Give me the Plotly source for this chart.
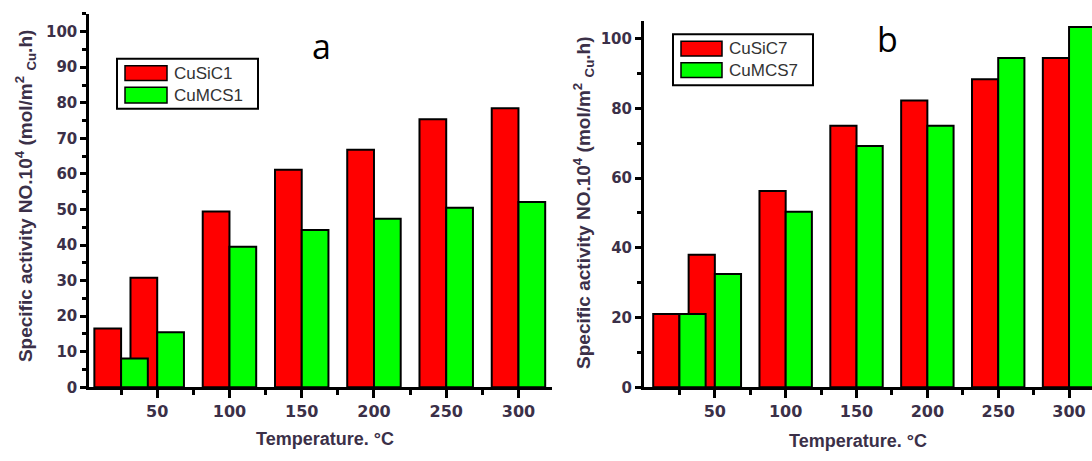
import plotly.graph_objects as go

# Reaction temperatures (°C) and specific activity values for each catalyst
temperatures = [25, 50, 100, 150, 200, 250, 300]
tick_values = [50, 100, 150, 200, 250, 300]
tick_labels = ["50", "100", "150", "200", "250", "300"]

cusic1 = [16.5, 30.8, 49.4, 61.2, 66.8, 75.4, 78.5]
cumcs1 = [8.1, 15.5, 39.5, 44.2, 47.4, 50.5, 52.1]
cusic7 = [21.0, 38.0, 56.3, 75.0, 82.2, 88.3, 94.4]
cumcs7 = [21.0, 32.5, 50.3, 69.2, 75.0, 94.4, 103.3]

series_names_a = ["CuSiC1", "CuMCS1"]
series_names_b = ["CuSiC7", "CuMCS7"]

W, H = 1092, 461
RED = "#ff0000"
GREEN = "#00ff00"
LABEL_COLOR = "#3b3048"
BAR_W = 18.5


def px(x):
    """pixel column -> paper fraction"""
    return x / W


def py(y):
    """pixel row (from top) -> paper fraction"""
    return 1 - y / H


fig = go.Figure()

panels = [
    ("x", "y", cusic1, cumcs1, series_names_a),
    ("x2", "y2", cusic7, cumcs7, series_names_b),
]
for xa, ya, red_vals, green_vals, names in panels:
    fig.add_trace(go.Bar(
        x=temperatures, y=red_vals, name=names[0], width=BAR_W, offset=-BAR_W,
        marker=dict(color=RED, line=dict(color="black", width=2)),
        xaxis=xa, yaxis=ya, showlegend=False,
    ))
    fig.add_trace(go.Bar(
        x=temperatures, y=green_vals, name=names[1], width=BAR_W, offset=0,
        marker=dict(color=GREEN, line=dict(color="black", width=2)),
        xaxis=xa, yaxis=ya, showlegend=False,
    ))

tick_font = dict(family="DejaVu Sans", size=15, color=LABEL_COLOR, weight=700)
xtick_font = dict(family="DejaVu Sans", size=16, color=LABEL_COLOR, weight=700)

x_common = dict(
    tickmode="array", tickvals=tick_values, ticktext=tick_labels,
    showline=True, linecolor="black", linewidth=3,
    ticks="outside", ticklen=8, tickwidth=2.5, tickcolor="black",
    minor=dict(tick0=25, dtick=50, ticks="outside", ticklen=5, tickwidth=2.5,
               tickcolor="black", showgrid=False),
    showgrid=False, zeroline=False, tickfont=xtick_font, fixedrange=True,
)
y_common = dict(
    range=[0, 105],
    showline=True, linecolor="black", linewidth=3,
    ticks="outside", ticklen=6, tickwidth=2.5, tickcolor="black",
    showgrid=False, zeroline=False, tickfont=tick_font, fixedrange=True,
)

fig.update_layout(
    width=W, height=H,
    margin=dict(l=0, r=0, t=0, b=0),
    paper_bgcolor="white", plot_bgcolor="white",
    barmode="overlay",
    xaxis=dict(x_common, range=[3, 323], domain=[px(89.3), px(551.7)], anchor="y"),
    yaxis=dict(y_common, dtick=10,
               minor=dict(dtick=5, ticks="outside", ticklen=4, tickwidth=2.5,
                          tickcolor="black", showgrid=False),
               domain=[py(395), py(395 - 105 * 3.627)], anchor="x"),
    xaxis2=dict(x_common, range=[0, 316.2], domain=[px(644), 1.0], anchor="y2"),
    yaxis2=dict(y_common, dtick=20,
                minor=dict(dtick=10, ticks="outside", ticklen=4, tickwidth=2.5,
                           tickcolor="black", showgrid=False),
                domain=[py(395), py(395 - 105 * 3.557)], anchor="x2"),
    showlegend=False,
)

ytitle = ("Specific activity NO.10<sup>4</sup> (mol/m<sup>2</sup> "
          "<sub>Cu</sub>.h)")
title_font = dict(family="Liberation Sans", size=19, color=LABEL_COLOR, weight=700)
xtitle_font = dict(family="Liberation Sans", size=18, color=LABEL_COLOR, weight=700)

annotations = [
    dict(x=px(25), y=py(200), text=ytitle, textangle=-90, font=title_font),
    dict(x=px(584), y=py(207), text=ytitle, textangle=-90, font=title_font),
    dict(x=px(325), y=py(448), text="Temperature. °C", font=xtitle_font),
    dict(x=px(858), y=py(450), text="Temperature. °C", font=xtitle_font),
    dict(x=px(321), y=py(47), text="a",
         font=dict(family="Open Sans", size=34, color="black")),
    dict(x=px(887), y=py(40), text="b",
         font=dict(family="Open Sans", size=34, color="black")),
]

# framed legends with wide colour swatches
shapes = []
legend_font = dict(family="Liberation Sans", size=17, color="#333333")
legends = [
    # box, swatch x-span, (swatch y-span, label, colour) per entry, text x
    ((117, 60, 258, 111), (125, 167),
     [((67, 82), series_names_a[0], RED), ((89, 105), series_names_a[1], GREEN)], 172),
    ((673, 35, 813, 87), (681, 722),
     [((42, 57), series_names_b[0], RED), ((64, 79), series_names_b[1], GREEN)], 727),
]
for (bx0, by0, bx1, by1), (sx0, sx1), entries, tx in legends:
    shapes.append(dict(type="rect", xref="paper", yref="paper",
                       x0=px(bx0), x1=px(bx1), y0=py(by1), y1=py(by0),
                       line=dict(color="black", width=2), fillcolor="white"))
    for (sy0, sy1), label, color in entries:
        shapes.append(dict(type="rect", xref="paper", yref="paper",
                           x0=px(sx0), x1=px(sx1), y0=py(sy1), y1=py(sy0),
                           line=dict(color="black", width=1.5), fillcolor=color))
        annotations.append(dict(x=px(tx), y=py((sy0 + sy1) / 2), text=label,
                                xanchor="left", yanchor="middle", font=legend_font))

for a in annotations:
    a.setdefault("xref", "paper")
    a.setdefault("yref", "paper")
    a.setdefault("showarrow", False)
    a.setdefault("xanchor", "center")
    a.setdefault("yanchor", "middle")

fig.update_layout(annotations=annotations, shapes=shapes)

fig.write_html("out.html", config={"displayModeBar": False})
